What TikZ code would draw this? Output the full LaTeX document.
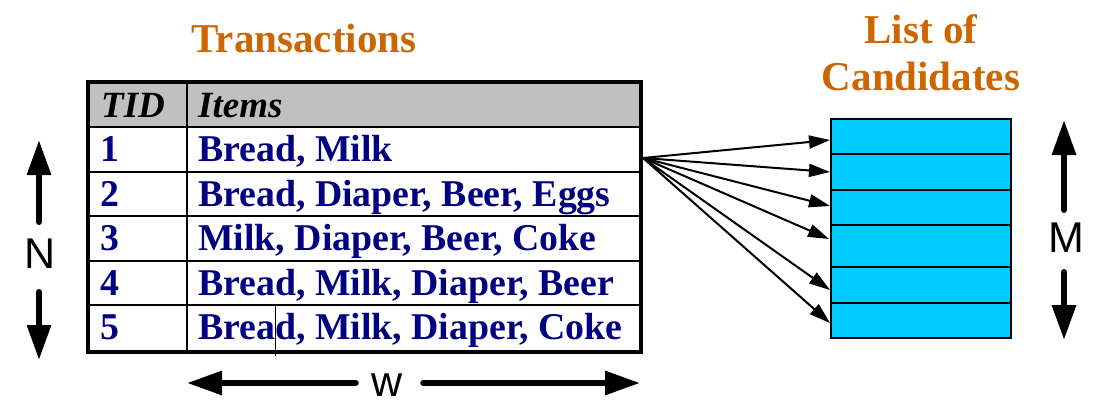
\documentclass[tikz,border=0pt]{standalone}
\usepackage{fontspec}
\setmainfont{Liberation Serif}
\newfontfamily\labelfont{Liberation Sans}
\usetikzlibrary{arrows.meta}
\definecolor{navy}{RGB}{0,0,128}
\definecolor{titleorange}{RGB}{204,102,0}
\definecolor{candcyan}{RGB}{0,204,255}
\definecolor{headgray}{RGB}{192,192,192}
\begin{document}
\begin{tikzpicture}[x=1pt,y=-1pt,
  title/.style={font=\fontsize{41}{46}\selectfont\bfseries, text=titleorange, inner sep=0pt, anchor=base},
  rowtext/.style={font=\fontsize{37.8}{40}\selectfont\bfseries, text=navy, inner sep=0pt, anchor=base west},
  headtext/.style={font=\fontsize{37}{40}\selectfont\bfseries\itshape, text=black, inner sep=0pt, anchor=base west},
  cand/.style={draw=black, line width=1.2pt, fill=candcyan, minimum width=180pt, anchor=north west, inner sep=0pt, outer sep=0pt},
  fan/.style={line width=2pt, -{Triangle[length=21pt,width=13pt]}},
  bigarrow/.style={line width=6pt, line cap=round, -{Triangle[length=35pt,width=23pt]}},
  dimlabel/.style={font=\labelfont\fontsize{43}{46}\selectfont, inner sep=0pt},
  rowline/.style={line width=2.5pt},
]
\useasboundingbox (0,0) rectangle (1105,415);

% titles
\node[title] (ttrans) at (304,52) {Transactions};
\node[title] (tlist) at (921,43) {List of};
\node[title] (tcand) at (921,90) {Candidates};

% table
\fill[headgray] (88,82) rectangle (641,127);
\foreach \y in {127,172,216,261,305} \draw[rowline] (88,\y) -- (641,\y);
\draw[line width=1.2pt] (187,82) -- (187,352);
\draw[line width=0.8pt] (275,305) -- (275,356);
\node[draw=black, line width=4.5pt, minimum width=553pt, minimum height=270pt, anchor=north west, inner sep=0pt, outer sep=0pt] (tbl) at (88,82) {};

\node[headtext] (htid) at (101,117) {TID};
\node[headtext] (hitems) at (198,117) {Items};
\node[rowtext] (n1) at (100,161) {1};
\node[rowtext] (n2) at (100,206) {2};
\node[rowtext] (n3) at (100,250) {3};
\node[rowtext] (n4) at (100,295) {4};
\node[rowtext] (n5) at (100,339) {5};
\node[rowtext] (i1) at (198,161) {Bread, Milk};
\node[rowtext] (i2) at (198,206) {Bread, Diaper, Beer, Eggs};
\node[rowtext] (i3) at (198,250) {Milk, Diaper, Beer, Coke};
\node[rowtext] (i4) at (198,295) {Bread, Milk, Diaper, Beer};
\node[rowtext] (i5) at (198,339) {Bread, Milk, Diaper, Coke};

% candidates
\node[cand, minimum height=35pt] (c1) at (831,119) {};
\node[cand, minimum height=36pt] (c2) at (831,154) {};
\node[cand, minimum height=35pt] (c3) at (831,190) {};
\node[cand, minimum height=42pt] (c4) at (831,225) {};
\node[cand, minimum height=36pt] (c5) at (831,267) {};
\node[cand, minimum height=35pt] (c6) at (831,303) {};

% fan arrows
\coordinate (src) at (643,158);
\draw[fan] (src) -- ([xshift=-1pt,yshift=-3.5pt]c1.west);
\draw[fan] (src) -- ([xshift=-1pt]c2.west);
\draw[fan] (src) -- ([xshift=-1pt,yshift=1.5pt]c3.west);
\draw[fan] (src) -- ([xshift=-2pt,yshift=7pt]c4.west);
\draw[fan] (src) -- ([xshift=-1pt,yshift=-5pt]c5.west);
\draw[fan] (src) -- ([xshift=-1pt,yshift=-2.5pt]c6.west);

% N
\node[dimlabel] (N) at (40,254) {N};
\coordinate (Ntop) at (39,140);
\coordinate (Nbot) at (39,360);
\draw[bigarrow] ([xshift=-1pt,yshift=17pt]N.north) -- (Ntop);
\draw[bigarrow] ([xshift=-1pt,yshift=-23pt]N.south) -- (Nbot);

% M
\node[dimlabel] (M) at (1066,238) {M};
\coordinate (Mtop) at (1064,120);
\coordinate (Mbot) at (1064,340);
\draw[bigarrow] ([xshift=-2pt,yshift=13pt]M.north) -- (Mtop);
\draw[bigarrow] ([xshift=-2pt,yshift=-19pt]M.south) -- (Mbot);

% w
\node[dimlabel] (w) at (387.5,385) {w};
\coordinate (wleft) at (187,383);
\coordinate (wright) at (640,383);
\draw[bigarrow] ([xshift=-16pt,yshift=2pt]w.west) -- (wleft);
\draw[bigarrow] ([xshift=20pt,yshift=2pt]w.east) -- (wright);
\end{tikzpicture}
\end{document}
